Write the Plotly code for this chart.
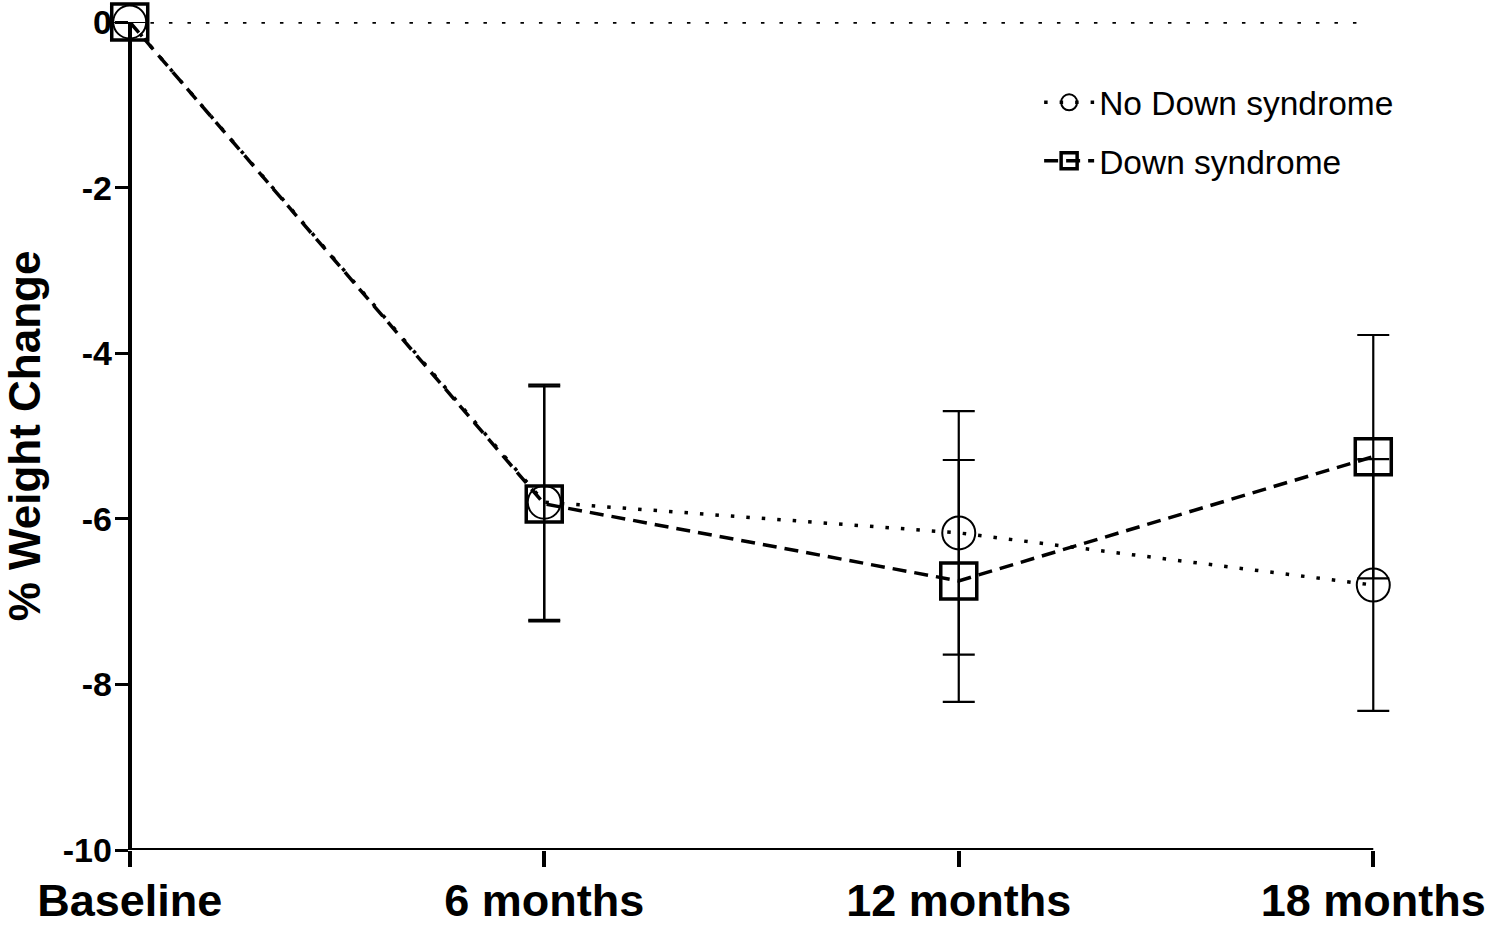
import plotly.graph_objects as go

# Data
timepoints = ["Baseline", "6 months", "12 months", "18 months"]
x_pos = [0, 1, 2, 3]

no_ds_mean = [0.0, -5.80, -6.17, -6.80]
no_ds_err = [0.0, 1.42, 1.47, 1.52]

ds_mean = [0.0, -5.82, -6.75, -5.25]
ds_err = [0.0, 1.42, 1.46, 1.47]

y_ticks = [0, -2, -4, -6, -8, -10]

FONT = "Liberation Sans, Arial, sans-serif"

FIG_W, FIG_H = 1500, 926

# geometry (px): x=0 at 130, x=3 at 1373; y=0 at 22, y=-10 at 850
PAD = 0.05
x0_px, x3_px = 130, 1373
top_px, bot_px = 22, 850
unit = (x3_px - x0_px) / 3.0
left_px = x0_px - PAD * unit
right_px = x3_px + PAD * unit
plot_w = right_px - left_px
plot_h = bot_px - top_px

fig = go.Figure()

fig.add_trace(go.Scatter(
    x=x_pos, y=no_ds_mean,
    name="No Down syndrome",
    legendgroup="a",
    mode="lines+markers",
    line=dict(color="black", width=3.5, dash="3.5px,12px"),
    marker=dict(symbol="circle-open", size=33, color="black", line=dict(width=2, color="black")),
    error_y=dict(type="data", array=no_ds_err, visible=True, color="black", thickness=2.2, width=16),
    cliponaxis=False,
))

fig.add_trace(go.Scatter(
    x=x_pos, y=ds_mean,
    name="Down syndrome",
    legendgroup="b",
    mode="lines+markers",
    line=dict(color="black", width=3.5, dash="14px,8px"),
    marker=dict(symbol="square-open", size=36, color="black", line=dict(width=3.5, color="black")),
    error_y=dict(type="data", array=ds_err, visible=True, color="black", thickness=2.2, width=16),
    cliponaxis=False,
))

# dotted reference line at 0
fig.add_shape(type="line", xref="x", yref="y", x0=0.05, x1=2.97, y0=0, y1=0,
              line=dict(color="black", width=3.5, dash="3.5px,15px"), layer="below")
# x axis line spanning Baseline..18 months
fig.add_shape(type="line", xref="x", yref="y", x0=x_pos[0], x1=x_pos[-1], y0=-10, y1=-10,
              line=dict(color="black", width=4), layer="above")

fig.update_layout(
    width=FIG_W, height=FIG_H,
    margin=dict(l=left_px, r=FIG_W - right_px, t=top_px, b=FIG_H - bot_px, autoexpand=False),
    paper_bgcolor="white", plot_bgcolor="white",
    font=dict(family=FONT, color="black"),
    showlegend=True,
    legend=dict(
        xref="paper", yref="paper",
        x=(1039 - left_px) / plot_w, y=1 - 52 / plot_h, xanchor="left", yanchor="top",
        font=dict(size=33.5, family=FONT, color="black"),
        bgcolor="rgba(0,0,0,0)",
        traceorder="grouped", tracegroupgap=12,
        itemwidth=50,
    ),
)

fig.update_xaxes(
    range=[-PAD, 3 + PAD],
    tickvals=x_pos, ticktext=timepoints,
    tickfont=dict(size=45, family=FONT, color="black", weight="bold"),
    showline=False,
    ticks="outside", ticklen=16, tickwidth=4, tickcolor="black",
    ticklabelstandoff=-5,
    showgrid=False, zeroline=False, automargin=False,
)

fig.update_yaxes(
    range=[-10, 0],
    anchor="free", position=PAD / (3 + 2 * PAD),
    tickvals=y_ticks, ticktext=[str(v) for v in y_ticks],
    tickfont=dict(size=34, family=FONT, color="black", weight="bold"),
    showline=True, linecolor="black", linewidth=4,
    ticks="outside", ticklen=13, tickwidth=3, tickcolor="black",
    ticklabelstandoff=-4,
    showgrid=False, zeroline=False, automargin=False,
    title=dict(text="% Weight Change", font=dict(size=44, family=FONT, color="black", weight="bold"), standoff=28),
)

# remove the browser's default 8px body margin so the figure fills the window exactly
fig.write_html("out.html", config={"displayModeBar": False},
               post_script="document.body.style.margin='0px';")
